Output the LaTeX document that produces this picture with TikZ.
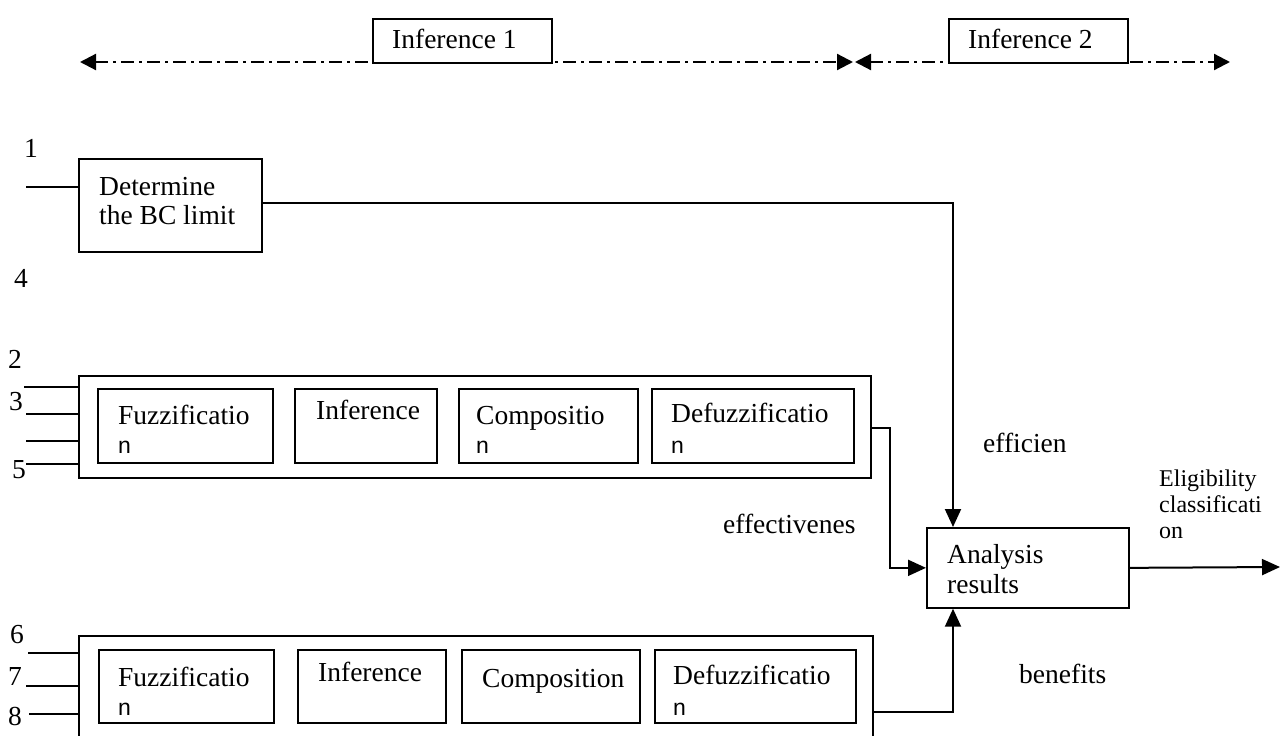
\documentclass[tikz,border=0pt]{standalone}
\usepackage{fontspec}
\setmainfont{Liberation Serif}
\newfontfamily\nfont{Liberation Sans}
\usetikzlibrary{arrows.meta}

\begin{document}
\begin{tikzpicture}[x=1pt, y=-1pt,
    every node/.style={font=\fontsize{27.5}{30}\selectfont},
    blk/.style={draw, line width=1.7pt, rectangle, inner sep=0pt, anchor=north west},
    lbl/.style={anchor=base west, inner sep=0pt},
    nlbl/.style={anchor=base west, inner sep=0pt, font=\nfont\fontsize{23}{26}\selectfont},
    small/.style={anchor=base west, inner sep=0pt, align=left, font=\fontsize{24}{26}\selectfont},
    ln/.style={line width=2pt},
    arr/.style={line width=2pt, -{Triangle[length=18pt,width=16pt]}},
    span/.style={line width=2.2pt, dash pattern=on 13pt off 5pt on 3pt off 5pt,
        {Triangle[length=16pt,width=16pt]}-{Triangle[length=16pt,width=16pt]}}]
    \useasboundingbox (0,0) rectangle (1288,736);

    % inference spans on top
    \coordinate (sL) at (80,62);
    \coordinate (sM1) at (853,62);
    \coordinate (sM2) at (855,62);
    \coordinate (sR) at (1230,62);
    \draw[span] (sL) -- (sM1);
    \draw[span] (sM2) -- (sR);
    \node[blk, fill=white, minimum width=179pt, minimum height=44pt] (inf1box) at (372,18) {};
    \node[blk, fill=white, minimum width=179pt, minimum height=44pt] (inf2box) at (948,18) {};
    \node[lbl] (inf1) at (392,48) {Inference 1};
    \node[lbl] (inf2) at (968,48) {Inference 2};

    % BC limit block
    \node[blk, minimum width=183pt, minimum height=93pt] (bc) at (78,158) {};
    \node[lbl] (bct1) at ([shift={(21,37)}]bc.north west) {Determine};
    \node[lbl] (bct2) at ([shift={(21,66)}]bc.north west) {the BC limit};
    \node[lbl] (n1) at (24,157) {1};
    \node[lbl] (n4) at (14,287) {4};
    \coordinate (i1) at (26,187);
    \draw[ln] (i1) -- (i1 -| bc.west);

    % first fuzzy group
    \node[blk, minimum width=792pt, minimum height=102pt] (grp1) at (78,375) {};
    \node[blk, minimum width=175pt, minimum height=74pt] (fz1) at (97,388) {};
    \node[blk, minimum width=142pt, minimum height=74pt] (in1) at (294,388) {};
    \node[blk, minimum width=179pt, minimum height=74pt] (cp1) at (458,388) {};
    \node[blk, minimum width=202pt, minimum height=74pt] (df1) at (651,388) {};
    \node[lbl] (fz1t) at ([shift={(21,36)}]fz1.north west) {Fuzzificatio};
    \node[nlbl] (fz1n) at ([shift={(21,65)}]fz1.north west) {n};
    \node[lbl] (in1t) at ([shift={(22,31)}]in1.north west) {Inference};
    \node[lbl] (cp1t) at ([shift={(18,36)}]cp1.north west) {Compositio};
    \node[nlbl] (cp1n) at ([shift={(18,65)}]cp1.north west) {n};
    \node[lbl] (df1t) at ([shift={(20,34)}]df1.north west) {Defuzzificatio};
    \node[nlbl] (df1n) at ([shift={(20,65)}]df1.north west) {n};
    \node[lbl] (n2) at (8,368) {2};
    \node[lbl] (n3) at (9,410) {3};
    \node[lbl] (n5) at (12,478) {5};
    \coordinate (i2) at (24,387);
    \coordinate (i3) at (26,414);
    \coordinate (i5a) at (26,441);
    \coordinate (i5) at (26,464);
    \draw[ln] (i2) -- (i2 -| grp1.west);
    \draw[ln] (i3) -- (i3 -| grp1.west);
    \draw[ln] (i5a) -- (i5a -| grp1.west);
    \draw[ln] (i5) -- (i5 -| grp1.west);

    % second fuzzy group
    \node[blk, minimum width=794pt, minimum height=112pt] (grp2) at (78,635) {};
    \node[blk, minimum width=175pt, minimum height=73pt] (fz2) at (98,649) {};
    \node[blk, minimum width=148pt, minimum height=73pt] (in2) at (297,649) {};
    \node[blk, minimum width=178pt, minimum height=73pt] (cp2) at (461,649) {};
    \node[blk, minimum width=201pt, minimum height=73pt] (df2) at (654,649) {};
    \node[lbl] (fz2t) at ([shift={(20,37)}]fz2.north west) {Fuzzificatio};
    \node[nlbl] (fz2n) at ([shift={(20,66)}]fz2.north west) {n};
    \node[lbl] (in2t) at ([shift={(21,32)}]in2.north west) {Inference};
    \node[lbl] (cp2t) at ([shift={(21,38)}]cp2.north west) {Composition};
    \node[lbl] (df2t) at ([shift={(19,35)}]df2.north west) {Defuzzificatio};
    \node[nlbl] (df2n) at ([shift={(19,66)}]df2.north west) {n};
    \node[lbl] (n6) at (10,643) {6};
    \node[lbl] (n7) at (8,685) {7};
    \node[lbl] (n8) at (8,725) {8};
    \coordinate (i6) at (28,653);
    \coordinate (i7) at (26,686);
    \coordinate (i8) at (29,714);
    \draw[ln] (i6) -- (i6 -| grp2.west);
    \draw[ln] (i7) -- (i7 -| grp2.west);
    \draw[ln] (i8) -- (i8 -| grp2.west);

    % analysis
    \node[blk, minimum width=202pt, minimum height=80pt] (res) at (926,527) {};
    \node[lbl] (rest1) at ([shift={(21,36)}]res.north west) {Analysis};
    \node[lbl] (rest2) at ([shift={(21,66)}]res.north west) {results};
    \coordinate (out) at (1280,567);
    \coordinate (o1) at (261,203);
    \coordinate (o2) at (870,428);
    \coordinate (o3) at (872,712);
    \draw[arr] (o1) -| ([xshift=27pt]res.north west);
    \draw[arr] (o2) -- (890,428) |- (res.west);
    \draw[arr] (o3) -| ([xshift=27pt]res.south west);
    \draw[arr] (res.east) -- (out);
    \node[lbl] (eff) at (983,452) {efficien};
    \node[lbl] (efv) at (723,533) {effectivenes};
    \node[lbl] (ben) at (1019,683) {benefits};
    \node[small] (elig) at (1159,538) {Eligibility\\classificati\\on};
\end{tikzpicture}
\end{document}
